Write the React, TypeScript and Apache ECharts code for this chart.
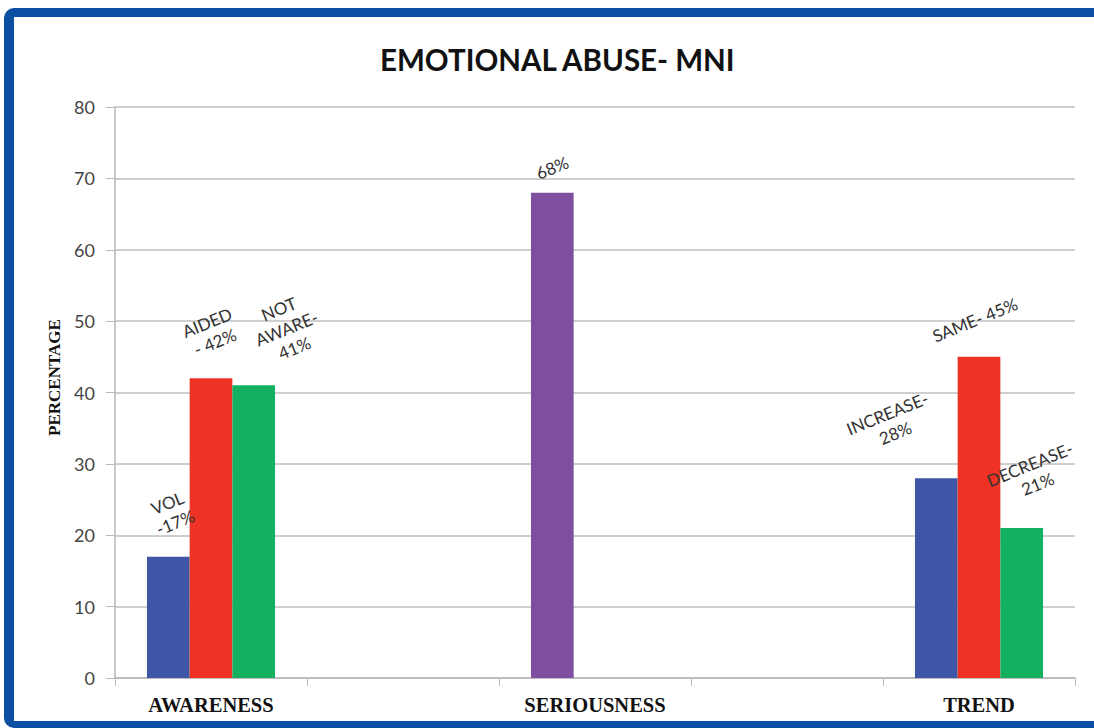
import React, { useEffect, useRef } from "react";
import * as echarts from "echarts";

const categories = ["AWARENESS", "", "SERIOUSNESS", "", "TREND"];
const seriesFirst = [17, "-", 68, "-", 28];
const seriesSecond = [42, "-", "-", "-", 45];
const seriesThird = [41, "-", "-", "-", 21];
const labelsFirst = ["VOL\n-17%", "", "68%", "", "INCREASE-\n28%"];
const labelsSecond = ["AIDED\n- 42%", "", "", "", "SAME- 45%"];
const labelsThird = ["NOT\nAWARE-\n41%", "", "", "", "DECREASE-\n21%"];
const yTicks = { min: 0, max: 80, interval: 10 };

const COLORS = {
  blue: "#3d57a6",
  red: "#ee3325",
  green: "#14b05f",
  purple: "#7f4f9f",
};

const ROT = 22;
// desired on-screen label-centre offsets from the bar top (styling)
const offFirst: Record<number, [number, number]> = { 0: [3, -44], 2: [0, -25], 4: [-45, -55] };
const offSecond: Record<number, [number, number]> = { 0: [0, -46], 4: [-4, -37] };
const offThird: Record<number, [number, number]> = { 0: [33, -57], 4: [12, -54] };

// ECharts applies the offset in the label's rotated frame; convert screen offset to local
function toLocal([X, Y]: [number, number]): [number, number] {
  const t = (ROT * Math.PI) / 180;
  return [X * Math.cos(t) - Y * Math.sin(t), X * Math.sin(t) + Y * Math.cos(t)];
}

function buildData(values: (number | string)[], labels: string[], offs: Record<number, [number, number]>, colorAt?: Record<number, string>) {
  return values.map((v, i) => {
    if (v === "-") return "-";
    const item: any = {
      value: v,
      label: {
        show: true,
        position: "top",
        distance: 0,
        formatter: labels[i],
        rotate: ROT,
        align: "center",
        verticalAlign: "middle",
        offset: toLocal(offs[i] || [0, -30]),
        fontFamily: "Lato, 'Open Sans', sans-serif",
        fontSize: 17,
        lineHeight: 21,
        color: "#333",
      },
    };
    if (colorAt && colorAt[i]) item.itemStyle = { color: colorAt[i] };
    return item;
  });
}

export default function App() {
  const ref = useRef<HTMLDivElement>(null);
  useEffect(() => {
    if (!ref.current) return;
    const chart = echarts.init(ref.current, null, { renderer: "svg" });
    chart.setOption({
      animation: false,
      title: {
        text: "EMOTIONAL ABUSE- MNI",
        left: 380,
        top: 44,
        padding: 0,
        textStyle: {
          fontFamily: "Lato, 'Open Sans', sans-serif",
          fontWeight: "bold",
          fontSize: 29.5,
          color: "#111",
        },
      },
      grid: { left: 115, right: 19, top: 107, bottom: 50 },
      xAxis: {
        type: "category",
        data: categories,
        axisLine: { lineStyle: { color: "#b8b8b8", width: 1.5 } },
        axisTick: { show: true, length: 8, lineStyle: { color: "#b8b8b8" } },
        axisLabel: {
          interval: 0,
          margin: 16,
          fontFamily: "'Liberation Serif', 'Times New Roman', serif",
          fontWeight: "bold",
          fontSize: 20.5,
          color: "#111",
        },
      },
      yAxis: {
        type: "value",
        min: yTicks.min,
        max: yTicks.max,
        interval: yTicks.interval,
        name: "PERCENTAGE",
        nameLocation: "middle",
        nameGap: 52,
        nameRotate: 90,
        nameTextStyle: {
          fontFamily: "'Liberation Serif', 'Times New Roman', serif",
          fontWeight: "bold",
          fontSize: 17,
          color: "#111",
          padding: [0, 0, 0, 30],
        },
        axisLine: { show: true, lineStyle: { color: "#b8b8b8", width: 1.5 } },
        axisTick: { show: true, length: 9, lineStyle: { color: "#b8b8b8" } },
        axisLabel: {
          margin: 20,
          fontFamily: "Lato, 'Open Sans', sans-serif",
          fontSize: 18,
          color: "#444",
        },
        splitLine: { lineStyle: { color: "#cfcfcf", width: 2 } },
      },
      series: [
        {
          type: "bar",
          data: buildData(seriesFirst, labelsFirst, offFirst, { 2: COLORS.purple }),
          itemStyle: { color: COLORS.blue },
          barGap: "0%",
          barCategoryGap: "33.3%",
        },
        {
          type: "bar",
          data: buildData(seriesSecond, labelsSecond, offSecond),
          itemStyle: { color: COLORS.red },
          barGap: "0%",
          barCategoryGap: "33.3%",
        },
        {
          type: "bar",
          data: buildData(seriesThird, labelsThird, offThird),
          itemStyle: { color: COLORS.green },
          barGap: "0%",
          barCategoryGap: "33.3%",
        },
      ],
    });
    return () => chart.dispose();
  }, []);
  return (
    <div style={{ position: "fixed", left: 0, top: 0, width: 1094, height: 728, background: "#fff", overflow: "hidden" }}>
      <div
        style={{
          position: "absolute",
          left: 4,
          top: 8,
          width: 1120,
          height: 720,
          boxSizing: "border-box",
          borderStyle: "solid",
          borderColor: "#0b4ea2",
          borderWidth: "9px 10px 7px 10px",
          borderRadius: 10,
        }}
      />
      <div ref={ref} style={{ position: "absolute", left: 0, top: 0, width: 1094, height: 728 }} />
    </div>
  );
}
